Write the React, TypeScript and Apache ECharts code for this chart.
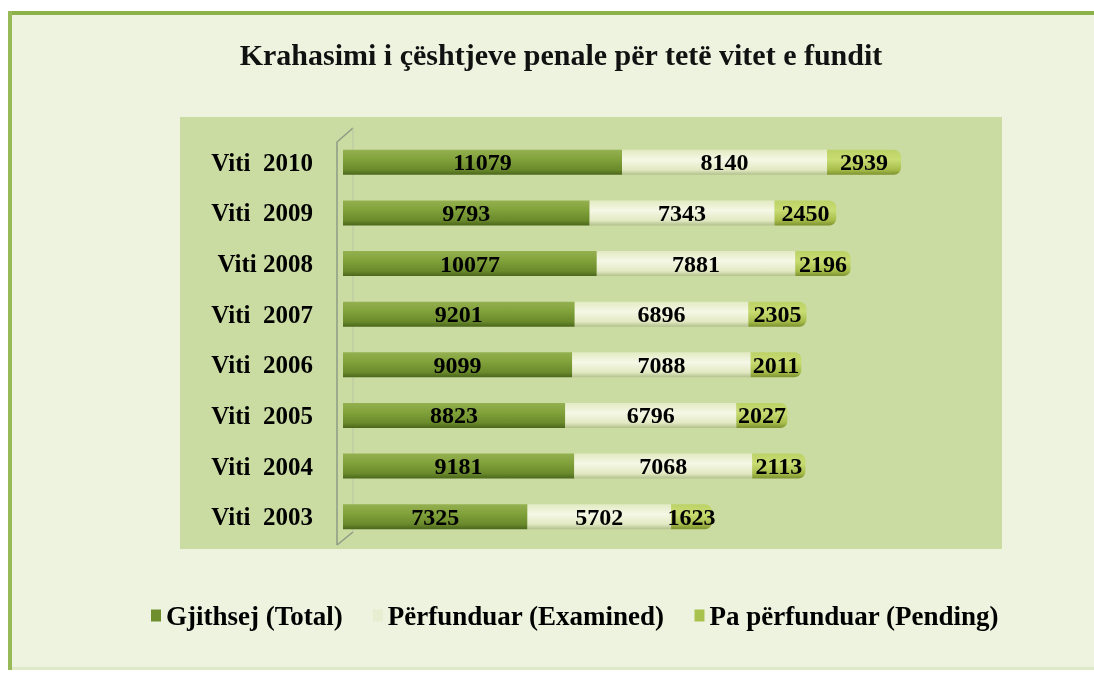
import React, { useEffect, useRef } from "react";
import * as echarts from "echarts";

const categories = ["Viti  2003", "Viti  2004", "Viti  2005", "Viti  2006", "Viti  2007", "Viti 2008", "Viti  2009", "Viti  2010"];
const totalValues = [7325, 9181, 8823, 9099, 9201, 10077, 9793, 11079];
const examinedValues = [5702, 7068, 6796, 7088, 6896, 7881, 7343, 8140];
const pendingValues = [1623, 2113, 2027, 2011, 2305, 2196, 2450, 2939];
const seriesNames = ["Gjithsej (Total)", "Përfunduar (Examined)", "Pa përfunduar (Pending)"];
const titleText = "Krahasimi i çështjeve penale për tetë vitet e fundit";

const SERIF = "'Liberation Serif', 'DejaVu Serif', serif";

export default function App() {
  const ref = useRef<HTMLDivElement>(null);
  useEffect(() => {
    if (!ref.current) return;
    const chart = echarts.init(ref.current, null, { renderer: "svg" });
    const grad = (stops: [number, string][]) =>
      new echarts.graphic.LinearGradient(0, 0, 0, 1, stops.map(([offset, color]) => ({ offset, color })));
    const totalColor = grad([[0, "#94b050"], [0.35, "#83a33c"], [0.8, "#6a8a2c"], [1, "#4b661b"]]);
    const examColor = grad([[0, "#e2eac2"], [0.4, "#f5f8e6"], [0.8, "#e2e9c3"], [1, "#b3c08c"]]);
    const pendColor = grad([[0, "#bcd266"], [0.4, "#c8dc72"], [0.8, "#a6bd4a"], [1, "#7e9230"]]);
    const labelStyle = {
      show: true,
      position: "inside" as const,
      color: "#000",
      fontFamily: SERIF,
      fontWeight: "bold" as const,
      fontSize: 24,
    };
    chart.setOption({
      animation: false,
      title: {
        text: titleText,
        left: 556,
        textAlign: "center",
        top: 34,
        textStyle: { fontFamily: SERIF, fontSize: 30, fontWeight: "bold", color: "#111" },
      },
      graphic: [
        { type: "rect", z: -10, shape: { x: 8, y: 11, width: 1086, height: 659 }, style: { fill: "#eef3e0" } },
        { type: "rect", z: -9, shape: { x: 8, y: 11, width: 1086, height: 4 }, style: { fill: "#8db24a" } },
        { type: "rect", z: -9, shape: { x: 8, y: 11, width: 4, height: 659 }, style: { fill: "#98b958" } },
        { type: "rect", z: -9, shape: { x: 12, y: 667, width: 1082, height: 3 }, style: { fill: "#dfe8c8" } },
        { type: "rect", z: -8, shape: { x: 180, y: 117, width: 822, height: 432 }, style: { fill: "#cbdca3" } },
        { type: "polyline", z: -7, shape: { points: [[337, 545], [337, 142], [353, 128]] }, style: { stroke: "#8e9a86", lineWidth: 1.5, fill: "none" } },
        { type: "polyline", z: -7, shape: { points: [[337, 545], [353, 532]] }, style: { stroke: "#8e9a86", lineWidth: 1.5, fill: "none" } },
        { type: "line", z: -7, shape: { x1: 353, y1: 128, x2: 353, y2: 532 }, style: { stroke: "#b9c7a4", lineWidth: 1 } },
      ],
      legend: {
        bottom: 45,
        left: 146,
        itemWidth: 10,
        itemHeight: 12,
        itemGap: 30,
        icon: "rect",
        textStyle: { fontFamily: SERIF, fontSize: 27, fontWeight: "bold", color: "#000" },
        data: [
          { name: seriesNames[0], itemStyle: { color: "#6f8f2e" } },
          { name: seriesNames[1], itemStyle: { color: "#e6edd0" } },
          { name: seriesNames[2], itemStyle: { color: "#a9c24e" } },
        ],
      },
      grid: { left: 343, width: 680, top: 137, height: 405 },
      xAxis: { type: "value", min: 0, max: 27000, show: false },
      yAxis: {
        type: "category",
        data: categories,
        axisLine: { show: false },
        axisTick: { show: false },
        axisLabel: { margin: 30, color: "#000", fontFamily: SERIF, fontWeight: "bold", fontSize: 25 },
      },
      series: [
        { name: seriesNames[0], type: "bar", stack: "a", barWidth: 25, data: totalValues, itemStyle: { color: totalColor }, label: labelStyle },
        { name: seriesNames[1], type: "bar", stack: "a", barWidth: 25, data: examinedValues, itemStyle: { color: examColor }, label: labelStyle },
        { name: seriesNames[2], type: "bar", stack: "a", barWidth: 25, data: pendingValues, itemStyle: { color: pendColor, borderRadius: [0, 7, 7, 0] }, label: labelStyle },
      ],
    });
    return () => chart.dispose();
  }, []);
  return <div ref={ref} style={{ position: "fixed", left: 0, top: 0, width: 1094, height: 679 }} />;
}
